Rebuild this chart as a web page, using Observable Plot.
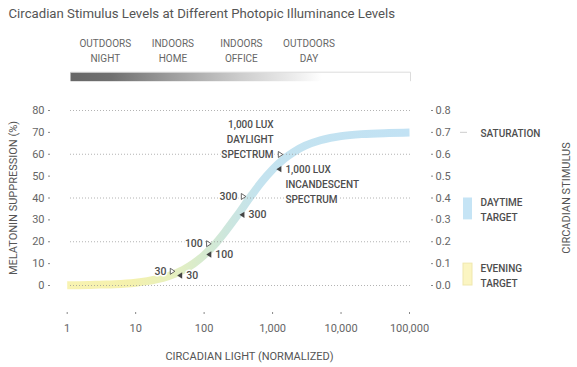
<!DOCTYPE html>
<html><head><meta charset="utf-8">
<script src="https://cdn.jsdelivr.net/npm/d3@7"></script>
<script src="https://cdn.jsdelivr.net/npm/@observablehq/plot@0.6"></script>
<style>
body{margin:0;background:#fff;}
#chart svg{display:block;}
g[aria-label="env-labels"] text{letter-spacing:0.8px;}
g[aria-label="annot"] text{letter-spacing:0.5px;}
g[aria-label="legend-text"] text{letter-spacing:0.6px;}
g[aria-label="axis-title"] text{letter-spacing:0.3px;}
</style></head><body><div id="chart"></div>
<script>
// ---- data ----
const title = "Circadian Stimulus Levels at Different Photopic Illuminance Levels";
const xTitle = "CIRCADIAN LIGHT (NORMALIZED)";
const yTitleLeft = "MELATONIN SUPPRESSION (%)";
const yTitleRight = "CIRCADIAN STIMULUS";

// curve: circadian light (normalized) vs melatonin suppression (%)
const curveCla = [1, 2, 3, 5, 10, 20, 30, 50, 70, 100, 150, 200, 300, 500, 700, 1000, 1500, 2000, 3000, 5000, 7000, 10000, 20000, 50000, 100000];
const curvePct = [0.1, 0.2, 0.4, 0.6, 1.3, 2.8, 4.3, 7.2, 10.0, 13.9, 19.5, 24.3, 31.7, 41.5, 47.5, 53.0, 58.1, 60.9, 63.9, 66.4, 67.5, 68.3, 69.2, 69.7, 69.9];

const xTicks = [1, 10, 100, 1000, 10000, 100000];
const yTicks = [0, 10, 20, 30, 40, 50, 60, 70, 80];
const gridValues = [0, 20, 40, 60, 80];

const envLabels = ["OUTDOORS\nNIGHT", "INDOORS\nHOME", "INDOORS\nOFFICE", "OUTDOORS\nDAY"];
const envCla = [3.6, 35, 350, 3400];

const daylightLabels = ["30", "100", "300", "1,000 LUX\nDAYLIGHT\nSPECTRUM"];
const daylightCla = [34.5, 117, 376, 1306];
const daylightPct = [6.5, 19.1, 40.7, 59.9];

const incandLabels = ["30", "100", "300", "1,000 LUX\nINCANDESCENT\nSPECTRUM"];
const incandCla = [44, 117, 357, 1236];
const incandPct = [4.6, 14.2, 32.3, 53.2];

const saturationLabel = "SATURATION";
const saturationLevel = 70;
const targetLabels = ["DAYTIME\nTARGET", "EVENING\nTARGET"];
const targetLow = [30, 0];
const targetHigh = [40, 10];

// ---- tables ----
const curve = curveCla.map((c, i) => ({cla: c, pct: curvePct[i]}));
const env = envCla.map((c, i) => ({cla: c, label: envLabels[i]}));
const daylight = daylightCla.map((c, i) => ({cla: c, pct: daylightPct[i], label: daylightLabels[i]}));
const incand = incandCla.map((c, i) => ({cla: c, pct: incandPct[i], label: incandLabels[i]}));
const targets = targetLabels.map((l, i) => ({label: l, lo: targetLow[i], hi: targetHigh[i], mid: (targetLow[i] + targetHigh[i]) / 2}));
const legendText = [{label: saturationLabel, v: saturationLevel}, ...targets.map(t => ({label: t.label, v: t.mid}))];

const triRight = {draw(ctx) { ctx.moveTo(-2.2, -3); ctx.lineTo(2.4, 0); ctx.lineTo(-2.2, 3); ctx.closePath(); }};
const triLeft = {draw(ctx) { ctx.moveTo(2.5, -3.2); ctx.lineTo(-2.5, 0); ctx.lineTo(2.5, 3.2); ctx.closePath(); }};

const annotFill = "#4d4d4d";

const chart = Plot.plot({
  width: 577, height: 367,
  marginLeft: 70, marginRight: 167, marginTop: 110, marginBottom: 82,
  style: {fontFamily: "Roboto, sans-serif", fontSize: "11px", color: "#666", background: "#fff"},
  x: {type: "log", domain: [1, 100000], range: [66.7, 409], axis: null},
  y: {domain: [0, 80], axis: null},
  marks: [
    Plot.text([title], {frameAnchor: "top-left", dx: -62, dy: -96.4, textAnchor: "start", lineAnchor: "middle", fontSize: 13.2, fill: "#555"}),
    // light-level bar
    Plot.frame({fill: "url(#barGrad)", stroke: "none", insetTop: -38.3, insetBottom: 204.3}),
    Plot.frame({fill: "none", stroke: "#dcdcdc", strokeDasharray: "349 400", insetTop: -38.3, insetBottom: 204.3}),
    Plot.text(env, {x: "cla", text: "label", frameAnchor: "top", dy: -60.4, lineAnchor: "middle", lineHeight: 1.5, fontSize: 10, fill: "#666", ariaLabel: "env-labels"}),
    // curve
    Plot.line(curve, {x: "cla", y: "pct", stroke: "url(#curveGrad)", strokeWidth: 8, curve: "monotone-x", strokeLinecap: "butt"}),
    Plot.gridY(gridValues, {stroke: "#999", strokeOpacity: 0.75, strokeDasharray: "1 2"}),
    // axes
    Plot.axisX({ticks: xTicks, tickFormat: d3.format(","), tickSize: 2, tickPadding: 10, dy: 27, label: null, stroke: "#888", fill: "#666"}),
    Plot.axisY({anchor: "left", ticks: yTicks, tickSize: 2, tickPadding: 4, dx: -20, label: null, stroke: "#888", fill: "#666"}),
    Plot.axisY({anchor: "right", ticks: yTicks, tickFormat: d => (d / 100).toFixed(1), tickSize: 2, tickPadding: 3, dx: 20, label: null, stroke: "#888", fill: "#666"}),
    Plot.text([xTitle], {frameAnchor: "bottom", dx: 9, dy: 71, lineAnchor: "middle", fill: "#555", ariaLabel: "axis-title"}),
    Plot.text([yTitleLeft], {frameAnchor: "left", dx: -57, rotate: -90, textAnchor: "middle", lineAnchor: "middle", fill: "#555", ariaLabel: "axis-title"}),
    Plot.text([yTitleRight], {frameAnchor: "right", dx: 156, rotate: -90, textAnchor: "middle", lineAnchor: "middle", fill: "#555", ariaLabel: "axis-title"}),
    // markers
    Plot.dot(daylight, {x: "cla", y: "pct", symbol: triRight, r: 3, fill: "white", stroke: "#555", strokeWidth: 0.9}),
    Plot.dot(incand, {x: "cla", y: "pct", symbol: triLeft, r: 3, fill: "#444", stroke: "none"}),
    Plot.text(daylight.slice(0, 3), {x: "cla", y: "pct", text: "label", textAnchor: "end", dx: -6, fontSize: 10.5, fontWeight: 500, fill: annotFill, stroke: "white", strokeWidth: 3, ariaLabel: "annot"}),
    Plot.text(daylight.slice(3), {x: "cla", y: "pct", text: "label", textAnchor: "end", dx: -7, dy: -16.2, lineAnchor: "middle", lineHeight: 1.5, fontSize: 10, fontWeight: 500, fill: annotFill, stroke: "white", strokeWidth: 3, ariaLabel: "annot"}),
    Plot.text(incand.slice(0, 3), {x: "cla", y: "pct", text: "label", textAnchor: "start", dx: 6.5, fontSize: 10.5, fontWeight: 500, fill: annotFill, stroke: "white", strokeWidth: 3, ariaLabel: "annot"}),
    Plot.text(incand.slice(3), {x: "cla", y: "pct", text: "label", textAnchor: "start", dx: 6.5, dy: 13.8, lineAnchor: "middle", lineHeight: 1.5, fontSize: 10, fontWeight: 500, fill: annotFill, stroke: "white", strokeWidth: 3, ariaLabel: "annot"}),
    // legend
    Plot.ruleY([saturationLevel], {insetLeft: 390, insetRight: -57, stroke: "#d6d6d6", strokeWidth: 1.2}),
    Plot.rect(targets.slice(0, 1), {y1: "lo", y2: "hi", insetLeft: 393, insetRight: -62, fill: "#c5e4f5"}),
    Plot.rect(targets.slice(1), {y1: "lo", y2: "hi", insetLeft: 393, insetRight: -62, fill: "#fbf5c2", stroke: "#efe7ad", strokeWidth: 1}),
    Plot.text(legendText, {y: "v", text: "label", frameAnchor: "right", dx: 70, textAnchor: "start", lineAnchor: "middle", lineHeight: 1.5, fontSize: 10, fontWeight: 500, fill: annotFill, ariaLabel: "legend-text"})
  ]
});

// gradients used by the bar and the curve
const defs = d3.select(chart).insert("defs", ":first-child");
const bar = defs.append("linearGradient").attr("id", "barGrad")
  .attr("gradientUnits", "userSpaceOnUse").attr("x1", 70).attr("x2", 410).attr("y1", 0).attr("y2", 0);
[[0, "#676767"], [0.12, "#707070"], [0.3, "#9e9e9e"], [0.5, "#cdcdcd"], [0.66, "#ededed"], [0.74, "#ffffff"], [1, "#ffffff"]]
  .forEach(([o, c]) => bar.append("stop").attr("offset", o).attr("stop-color", c));
const cg = defs.append("linearGradient").attr("id", "curveGrad")
  .attr("gradientUnits", "userSpaceOnUse").attr("x1", 66.7).attr("x2", 410).attr("y1", 0).attr("y2", 0);
[[0, "#f8f3b2"], [0.18, "#f5f1ad"], [0.3, "#e7f0bd"], [0.39, "#d7ebce"], [0.47, "#cce6de"], [0.56, "#c4e3ef"], [1, "#c2e2f4"]]
  .forEach(([o, c]) => cg.append("stop").attr("offset", o).attr("stop-color", c));

document.getElementById("chart").appendChild(chart);
</script></body></html>
